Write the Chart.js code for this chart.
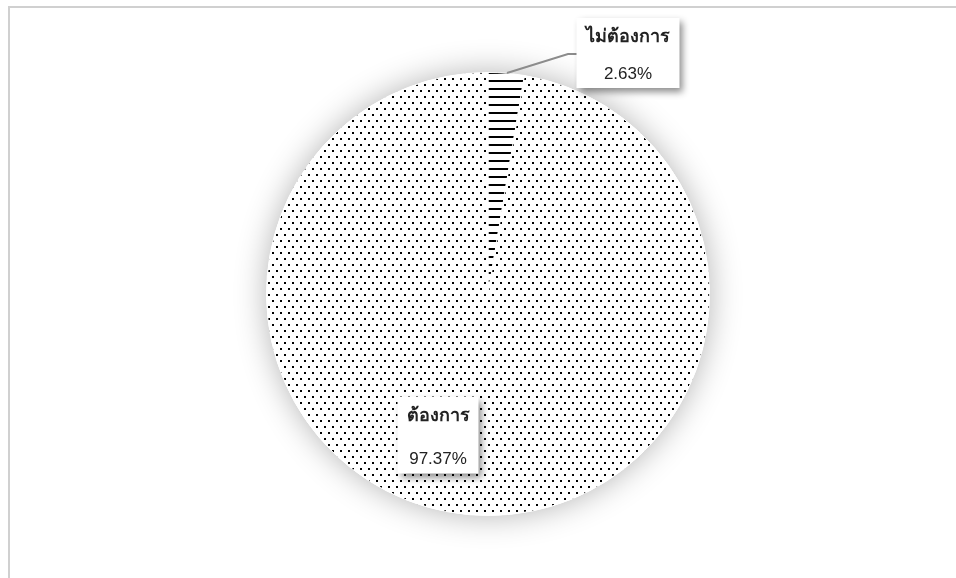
<!DOCTYPE html>
<html>
<head>
<meta charset="utf-8">
<script src="https://cdn.jsdelivr.net/npm/chart.js@4"></script>
<style>
  html, body { margin: 0; padding: 0; background: #fff; }
  #wrap { position: relative; width: 956px; height: 578px; }
  #frame {
    position: absolute; left: 8px; top: 6px; right: -4px; bottom: -4px;
    border-top: 2px solid #d0d0d0; border-left: 2px solid #d0d0d0;
  }
  canvas { position: absolute; left: 0; top: 0; }
</style>
</head>
<body>
<div id="wrap">
  <div id="frame"></div>
  <canvas id="pieChart" width="956" height="578"></canvas>
</div>
<script>
// ข้อมูล
const labels = ["ไม่ต้องการ", "ต้องการ"];
const values = [2.63, 97.37];
const valueTexts = ["2.63%", "97.37%"];

// ลายเส้นของแต่ละชิ้น
function makePattern(kind) {
    const c = document.createElement("canvas");
    const g = c.getContext("2d");
    if (kind === "lines") {
        c.width = 8; c.height = 8;
        g.fillStyle = "#fff";
        g.fillRect(0, 0, 8, 8);
        g.fillStyle = "#000";
        g.fillRect(0, 0, 8, 2);
    } else {
        c.width = 8; c.height = 12;
        g.fillStyle = "#fff";
        g.fillRect(0, 0, 8, 12);
        g.fillStyle = "#000";
        g.fillRect(0, 0, 2, 2);
        g.fillRect(4, 6, 2, 2);
    }
    return g.createPattern(c, "repeat");
}

// เงารอบวงกลม
const glowPlugin = {
    id: "glow",
    beforeDatasetsDraw(chart) {
        const arc = chart.getDatasetMeta(0).data[0];
        if (!arc) return;
        const ctx = chart.ctx;
        ctx.save();
        ctx.shadowColor = "rgba(0,0,0,0.3)";
        ctx.shadowBlur = 32;
        ctx.fillStyle = "#fff";
        ctx.beginPath();
        ctx.arc(arc.x, arc.y, arc.outerRadius, 0, Math.PI * 2);
        ctx.fill();
        ctx.restore();
    },
};

// กล่องป้ายข้อมูล
const boxes = [
    { dx: 140, dy: -241, w: 103, h: 70, line: [[19, -221], [80, -240], [89, -240]] },
    { dx: -50, dy: 141, w: 81, h: 77 },
];

const labelPlugin = {
    id: "boxLabels",
    afterDatasetsDraw(chart) {
        const arc = chart.getDatasetMeta(0).data[0];
        const ctx = chart.ctx;
        const cx = arc.x, cy = arc.y;
        boxes.forEach((b, i) => {
            if (b.line) {
                ctx.save();
                ctx.strokeStyle = "#8c8c8c";
                ctx.lineWidth = 2;
                ctx.beginPath();
                b.line.forEach((p, k) => {
                    if (k === 0) ctx.moveTo(cx + p[0], cy + p[1]);
                    else ctx.lineTo(cx + p[0], cy + p[1]);
                });
                ctx.stroke();
                ctx.restore();
            }
            const x = cx + b.dx - b.w / 2;
            const y = cy + b.dy - b.h / 2;
            ctx.save();
            ctx.shadowColor = "rgba(0,0,0,0.45)";
            ctx.shadowBlur = 7;
            ctx.shadowOffsetX = 3;
            ctx.shadowOffsetY = 4;
            ctx.fillStyle = "#fff";
            ctx.fillRect(x, y, b.w, b.h);
            ctx.restore();

            ctx.save();
            ctx.fillStyle = "#222";
            ctx.textAlign = "center";
            ctx.textBaseline = "middle";
            ctx.font = "bold 18px 'Noto Sans', Tahoma, sans-serif";
            ctx.fillText(labels[i], cx + b.dx, y + 19);
            ctx.font = "17px 'Liberation Sans', Arial, sans-serif";
            ctx.fillText(valueTexts[i], cx + b.dx, y + b.h - 14);
            ctx.restore();
        });
    },
};

const pieChart = new Chart(document.getElementById("pieChart").getContext("2d"), {
    type: "pie",
    data: {
        labels,
        datasets: [
            {
                data: values,
                backgroundColor: [makePattern("lines"), makePattern("dots")],
                borderColor: "#fff",
                borderWidth: 1,
            },
        ],
    },
    options: {
        responsive: false,
        animation: false,
        layout: {
            padding: { top: 72, bottom: 62, left: 250, right: 230 },
        },
        plugins: {
            legend: { display: false },
            tooltip: { enabled: false },
        },
    },
    plugins: [glowPlugin, labelPlugin],
});
</script>
</body>
</html>
